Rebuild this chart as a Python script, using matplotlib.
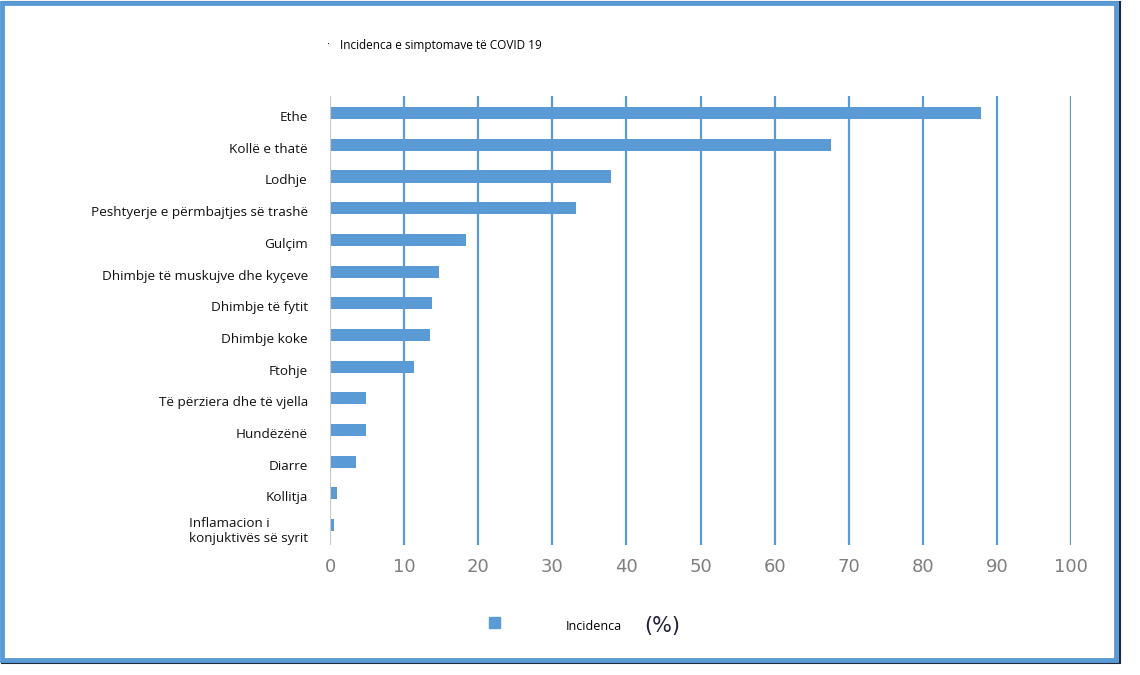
import matplotlib
matplotlib.use("Agg")
import matplotlib.pyplot as plt
import matplotlib.transforms as mtransforms
from matplotlib.patches import Rectangle

# symptoms, top to bottom
symptoms = [
    "Ethe",
    "Kollë e thatë",
    "Lodhje",
    "Peshtyerje e përmbajtjes së trashë",
    "Gulçim",
    "Dhimbje të muskujve dhe kyçeve",
    "Dhimbje të fytit",
    "Dhimbje koke",
    "Ftohje",
    "Të përziera dhe të vjella",
    "Hundëzënë",
    "Diarre",
    "Kollitja",
    "Inflamacion i\nkonjuktivës së syrit",
]
incidence = [87.9, 67.6, 37.9, 33.2, 18.4, 14.7, 13.8, 13.5, 11.3, 4.9, 4.9, 3.5, 0.9, 0.6]
xticks = [0, 10, 20, 30, 40, 50, 60, 70, 80, 90, 100]

title = "Incidenca e simptomave të COVID 19"
legend_label = "Incidenca"

BLUE = "#5B9BD5"

plt.rcParams["font.family"] = ["Open Sans", "DejaVu Sans"]

fig = plt.figure(figsize=(11.4, 6.75), dpi=100)
ax = fig.add_axes([330 / 1140, 1 - 545 / 675, 741 / 1140, 449 / 675])

ypos = list(range(len(symptoms)))
ax.barh(ypos, incidence, height=0.38, color=BLUE, zorder=3)

ax.set_xlim(0, 100)
ax.set_ylim(len(symptoms) - 0.37, -0.54)
ax.set_xticks(xticks)
ax.set_xticklabels([str(t) for t in xticks], fontsize=13, color="#7f7f7f",
                   family=["Liberation Sans Narrow", "DejaVu Sans"])
ax.tick_params(axis="x", length=0, pad=9)
ax.set_yticks(ypos)
ax.set_yticklabels(symptoms, fontsize=9.7, color="#111111")
ax.tick_params(axis="y", length=0, pad=16)

# labels sit a little below the bar centres in the original
shift = mtransforms.ScaledTranslation(0, -3 / 100, fig.dpi_scale_trans)
for lbl in ax.get_yticklabels():
    lbl.set_multialignment("left")
    lbl.set_transform(lbl.get_transform() + shift)

for t in xticks[1:]:
    ax.axvline(t, color=BLUE, lw=1.6, zorder=1)
ax.axvline(0, color="#c8c8c8", lw=1.5, zorder=4)
for s in ax.spines.values():
    s.set_visible(False)

fig.text(340 / 1140, 1 - 45 / 675, title, fontsize=8.5, va="center", ha="left")
fig.text(328 / 1140, 1 - 45 / 675, "·", fontsize=8, va="center", ha="center")

# legend
fig.patches.append(Rectangle((489 / 1140, 1 - 628 / 675), 11 / 1140, 11 / 675,
                             transform=fig.transFigure, color=BLUE))
fig.text(566 / 1140, 1 - 627 / 675, legend_label, fontsize=9, va="center", ha="left")
fig.text(644 / 1140, 1 - 626 / 675, "(%)", fontsize=15, va="center", ha="left",
         color="#1f1f3a", family=["Liberation Sans Narrow", "DejaVu Sans"])

# blue frame around the chart
fig.patches.append(Rectangle((2 / 1140, 1 - 663 / 675), 1118 / 1140, 661 / 675,
                             transform=fig.transFigure, fill=False, ec="#1c2a3a", lw=1.5))
fig.patches.append(Rectangle((2 / 1140, 1 - 660 / 675), 1114 / 1140, 657 / 675,
                             transform=fig.transFigure, fill=False, ec=BLUE, lw=3.5))

fig.savefig("out.png", dpi=100)
